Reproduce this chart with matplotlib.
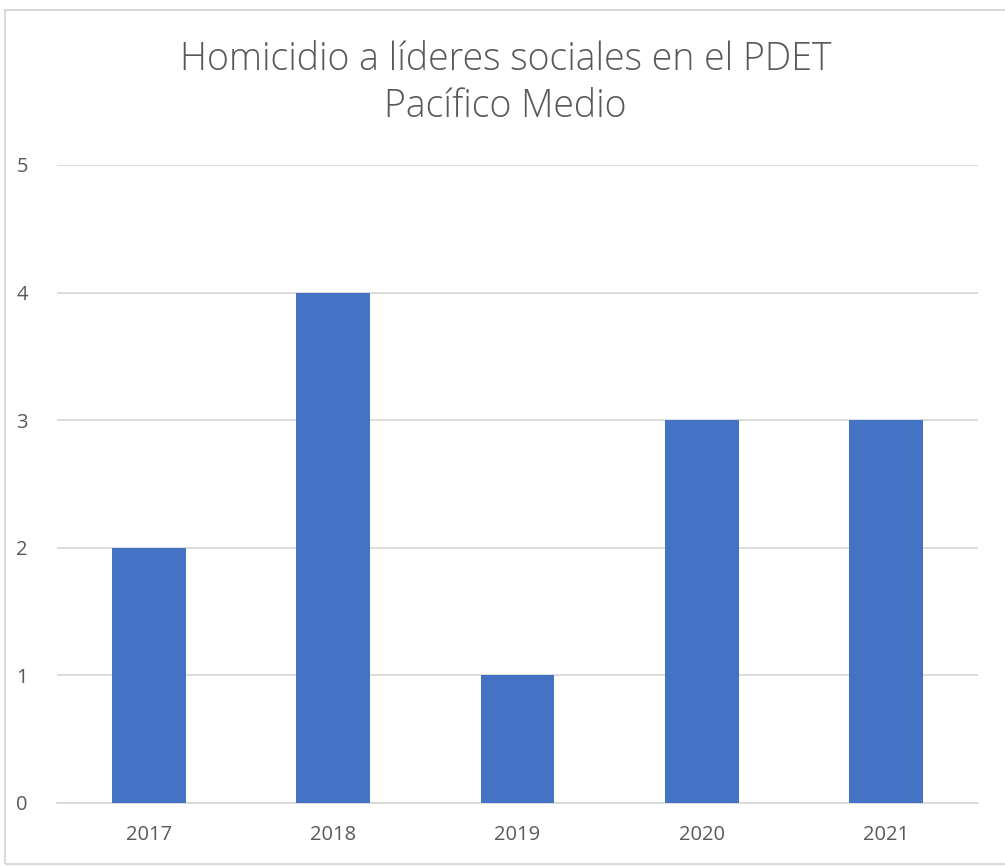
import matplotlib as mpl
mpl.use('Agg')
import matplotlib.pyplot as plt
from matplotlib.patches import Rectangle

years = ["2017", "2018", "2019", "2020", "2021"]
homicidios = [2, 4, 1, 3, 3]

plt.rcParams['font.family'] = ['Open Sans', 'DejaVu Sans']
gray = '#595959'

fig = plt.figure(figsize=(10.05, 8.66), dpi=100)
fig.patches.append(Rectangle((5/1005, 2/866), 1.0, 854/866, transform=fig.transFigure,
                             fill=False, edgecolor='#D9D9D9', linewidth=1.5))

ax = fig.add_axes([57/1005, 63/866, 921/1005, 638/866])
ax.bar(range(len(years)), homicidios, width=0.4, color='#4472C4', zorder=3)

ax.set_xlim(-0.5, len(years) - 0.5)
ax.set_ylim(0, 5)
ax.set_yticks(range(6))
ax.set_xticks(range(len(years)))
ax.set_xticklabels(years)
ax.yaxis.grid(True, color='#D9D9D9', linewidth=1.3, zorder=0)
for s in ['top', 'right', 'left']:
    ax.spines[s].set_visible(False)
ax.spines['bottom'].set_color('#D9D9D9')
ax.spines['bottom'].set_linewidth(1.3)
ax.tick_params(axis='both', length=0, labelsize=14.5, colors=gray)
ax.tick_params(axis='y', pad=21)
ax.tick_params(axis='x', pad=16)

fig.text(0.503, 1 - 83/866, "Homicidio a líderes sociales en el PDET\nPacífico Medio",
         ha='center', va='center', fontsize=27, color=gray, linespacing=1.3,
         fontweight='light')

fig.savefig('out.png', dpi=100)
